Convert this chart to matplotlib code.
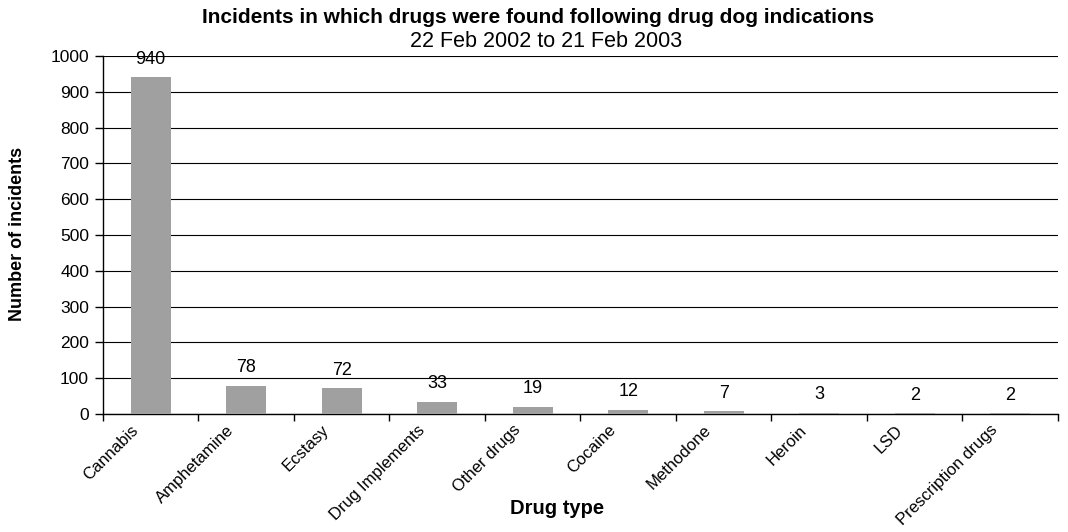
import matplotlib
matplotlib.use("Agg")
import matplotlib.pyplot as plt
import matplotlib.transforms as mtransforms
import numpy as np

plt.rcParams['font.family'] = ['Liberation Sans', 'DejaVu Sans']

categories = ["Cannabis", "Amphetamine", "Ecstasy", "Drug Implements", "Other drugs",
              "Cocaine", "Methodone", "Heroin", "LSD", "Prescription drugs"]
incidents = [940, 78, 72, 33, 19, 12, 7, 3, 2, 2]
y_ticks = list(range(0, 1001, 100))

fig = plt.figure(figsize=(10.68, 5.32), dpi=100)
ax = fig.add_axes([0.0964, 0.2218, 0.8942, 0.6729])

x = np.arange(len(categories))
ax.bar(x, incidents, width=0.42, color="#a0a0a0", zorder=3)

for xi, v in zip(x, incidents):
    ax.annotate(str(v), (xi, v), xytext=(0, 7), textcoords="offset points",
                ha="center", va="bottom", fontsize=13, zorder=4)

ax.set_xlim(-0.5, len(categories) - 0.5)
ax.set_ylim(0, 1000)
ax.set_yticks(y_ticks)
ax.yaxis.grid(True, color="black", linewidth=0.8, zorder=0)
ax.set_axisbelow(True)

ax.set_xticks(x)
ax.set_xticklabels(categories, rotation=45, ha="right", rotation_mode="anchor", fontsize=12)
ax.tick_params(axis="x", which="major", length=0, pad=6)
ax.set_xticks(np.arange(-0.5, len(categories) - 0.4, 1.0), minor=True)
ax.tick_params(axis="x", which="minor", length=5, width=1, direction="out")
ax.tick_params(axis="y", length=6, width=1, direction="out", labelsize=12.5, pad=4)

# nudge the slanted category names a little to the left of their bars
shift = mtransforms.ScaledTranslation(-20 / 100, 0, fig.dpi_scale_trans)
for lbl in ax.get_xticklabels():
    lbl.set_transform(lbl.get_transform() + shift)

for s in ("top", "right"):
    ax.spines[s].set_visible(False)
for s in ("left", "bottom"):
    ax.spines[s].set_color("black")
    ax.spines[s].set_linewidth(1)

fig.text(0.016, 0.56, "Number of incidents", rotation=90, ha="center", va="center",
         fontsize=13, fontweight="bold")
fig.text(0.522, 0.045, "Drug type", ha="center", va="center",
         fontsize=14.5, fontweight="bold")

fig.text(0.504, 0.968, "Incidents in which drugs were found following drug dog indications",
         ha="center", va="center", fontsize=15, fontweight="bold")
fig.text(0.511, 0.922, "22 Feb 2002 to 21 Feb 2003", ha="center", va="center", fontsize=15.5)

fig.savefig("out.png", dpi=100)
